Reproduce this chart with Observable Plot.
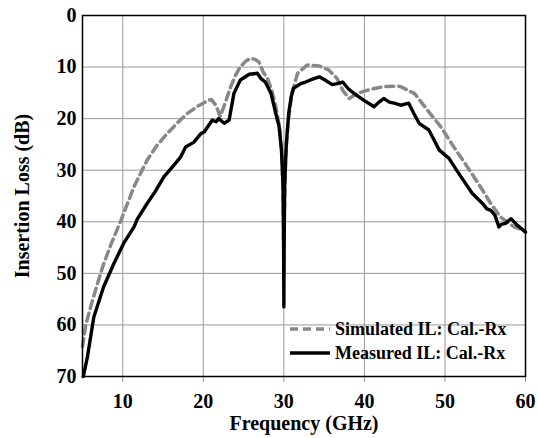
<!DOCTYPE html>
<html>
<head>
<meta charset="utf-8">
<script src="https://cdn.jsdelivr.net/npm/d3@7"></script>
<script src="https://cdn.jsdelivr.net/npm/@observablehq/plot@0.6"></script>
<style>
  html, body { margin: 0; padding: 0; background: #fff; }
  #wrap { position: relative; width: 538px; height: 438px; font-family: "Liberation Serif", Tinos, "Times New Roman", Times, "DejaVu Serif", serif; font-weight: bold; }
  #legend { position: absolute; left: 290px; top: 317px; font-size: 18px; line-height: 24px; color: #000; }
  #legend .row { display: flex; align-items: center; white-space: nowrap; }
  #legend svg { margin-right: 5px; }
</style>
</head>
<body>
<div id="wrap"></div>
<script>
// Measured insertion loss (Cal.-Rx)
const measFreq = [5.1,5.6,6.4,7.6,8.9,10.1,11.4,11.8,13.0,14.0,15.1,16.2,17.2,17.8,18.8,19.7,20.1,21.1,21.6,21.9,22.6,23.2,23.8,24.6,25.7,26.7,27.2,27.7,28.4,29.0,29.4,29.7,29.9,29.97,30.0,30.03,30.1,30.3,30.6,30.9,31.2,32.1,32.7,33.3,34.4,35.0,36.0,36.6,37.3,38.0,38.7,39.9,41.2,41.8,42.4,43.1,43.7,44.5,45.5,46.2,46.8,48.0,48.6,49.3,50.5,51.2,52.0,53.4,54.7,55.2,55.7,56.2,56.7,57.0,57.5,58.2,59.0,60.0];
const measLoss = [70,66.3,58.5,52.7,48.1,44.2,41.0,39.5,36.5,34.2,31.3,29.3,27.4,25.5,24.6,22.9,22.6,20.3,20.6,20.0,20.9,20.3,15.1,12.5,11.4,11.2,12.3,12.9,15.1,19.0,21.5,26,33,45,56.5,45,33,25,19,15.8,14.1,13.2,12.9,12.5,11.9,12.4,13.4,13.2,12.9,14.2,15.1,16.4,17.7,16.8,16.1,16.8,17.0,17.4,17.0,19.2,20.9,22.2,24.0,26.1,27.7,29.4,31.3,34.5,36.5,37.5,37.8,38.7,41.0,40.5,40.3,39.4,40.7,42.0];

// Simulated insertion loss (Cal.-Rx)
const simFreq = [5.0,5.4,6.1,6.8,7.6,8.5,9.7,11.4,13.0,14.2,15.5,16.8,18.0,19.4,20.7,21.0,21.6,22.1,22.7,23.4,24.0,24.6,25.3,25.9,26.4,26.9,27.5,27.9,28.5,29.0,29.5,29.8,29.95,30.0,30.05,30.2,30.5,31.0,31.7,32.9,34.4,35.6,36.6,37.3,38.1,39.1,40.8,42.4,44.1,44.5,46.2,47.8,49.5,51.1,52.8,54.4,55.7,56.9,58.6,59.8];
const simLoss = [64.2,60,56,52.3,48.3,44.5,40.0,33.2,28.1,25.3,22.9,20.8,19.0,17.5,16.4,16.3,17.5,19.6,17,13.8,11.6,9.9,8.8,8.3,8.5,9.0,11.2,11.9,14.5,17.7,22,28,40,50,40,28,21,15.1,11.2,9.6,9.8,10.6,12.2,14.5,16.1,15.1,14.3,13.8,13.7,13.8,15.1,18.3,21.6,25.5,29.4,33.2,36.5,39.1,41.0,41.7];

const xTicks = [10,20,30,40,50,60];
const yTicks = [0,10,20,30,40,50,60,70];
const seriesNames = ["Simulated IL: Cal.-Rx", "Measured IL: Cal.-Rx"];

const meas = measFreq.map((f, i) => ({f, v: measLoss[i]}));
const sim = simFreq.map((f, i) => ({f, v: simLoss[i]}));

const FONT = "'Liberation Serif', Tinos, 'Times New Roman', Times, 'DejaVu Serif', serif";

const chart = Plot.plot({
  width: 538,
  height: 438,
  marginLeft: 82,
  marginRight: 13,
  marginTop: 15,
  marginBottom: 62,
  style: {fontFamily: FONT, fontWeight: "bold", fontSize: "20px", color: "#000", background: "#fff", overflow: "visible"},
  x: {domain: [5, 60]},
  y: {domain: [0, 70], reverse: true},
  marks: [
    Plot.gridX(xTicks, {stroke: "#999", strokeOpacity: 1, strokeWidth: 1}),
    Plot.gridY(yTicks, {stroke: "#999", strokeOpacity: 1, strokeWidth: 1}),
    Plot.axisX(xTicks, {tickSize: 6, tickPadding: 11, stroke: "#999", label: "Frequency (GHz)", labelAnchor: "center", labelOffset: 53, labelArrow: "none", fontSize: 20, fontFamily: FONT, fontWeight: "bold"}),
    Plot.axisY(yTicks, {tickSize: 0, tickPadding: 6, label: "Insertion Loss (dB)", labelAnchor: "center", labelOffset: 68, labelArrow: "none", fontSize: 20, fontFamily: FONT, fontWeight: "bold"}),
    Plot.line(sim, {x: "f", y: "v", stroke: "#888", strokeWidth: 3.5, strokeDasharray: "8,5"}),
    Plot.line(meas, {x: "f", y: "v", stroke: "#000", strokeWidth: 3.4}),
    Plot.frame({stroke: "#000", strokeWidth: 1.5})
  ]
});

const wrap = document.getElementById("wrap");
wrap.appendChild(chart);

const legend = document.createElement("div");
legend.id = "legend";
legend.innerHTML = `
  <div class="row"><svg width="40" height="8"><line x1="0" y1="4" x2="40" y2="4" stroke="#888" stroke-width="3.5" stroke-dasharray="8,5"/></svg><span>${seriesNames[0]}</span></div>
  <div class="row"><svg width="40" height="8"><line x1="0" y1="4" x2="40" y2="4" stroke="#000" stroke-width="3.4"/></svg><span>${seriesNames[1]}</span></div>`;
wrap.appendChild(legend);
</script>
</body>
</html>
